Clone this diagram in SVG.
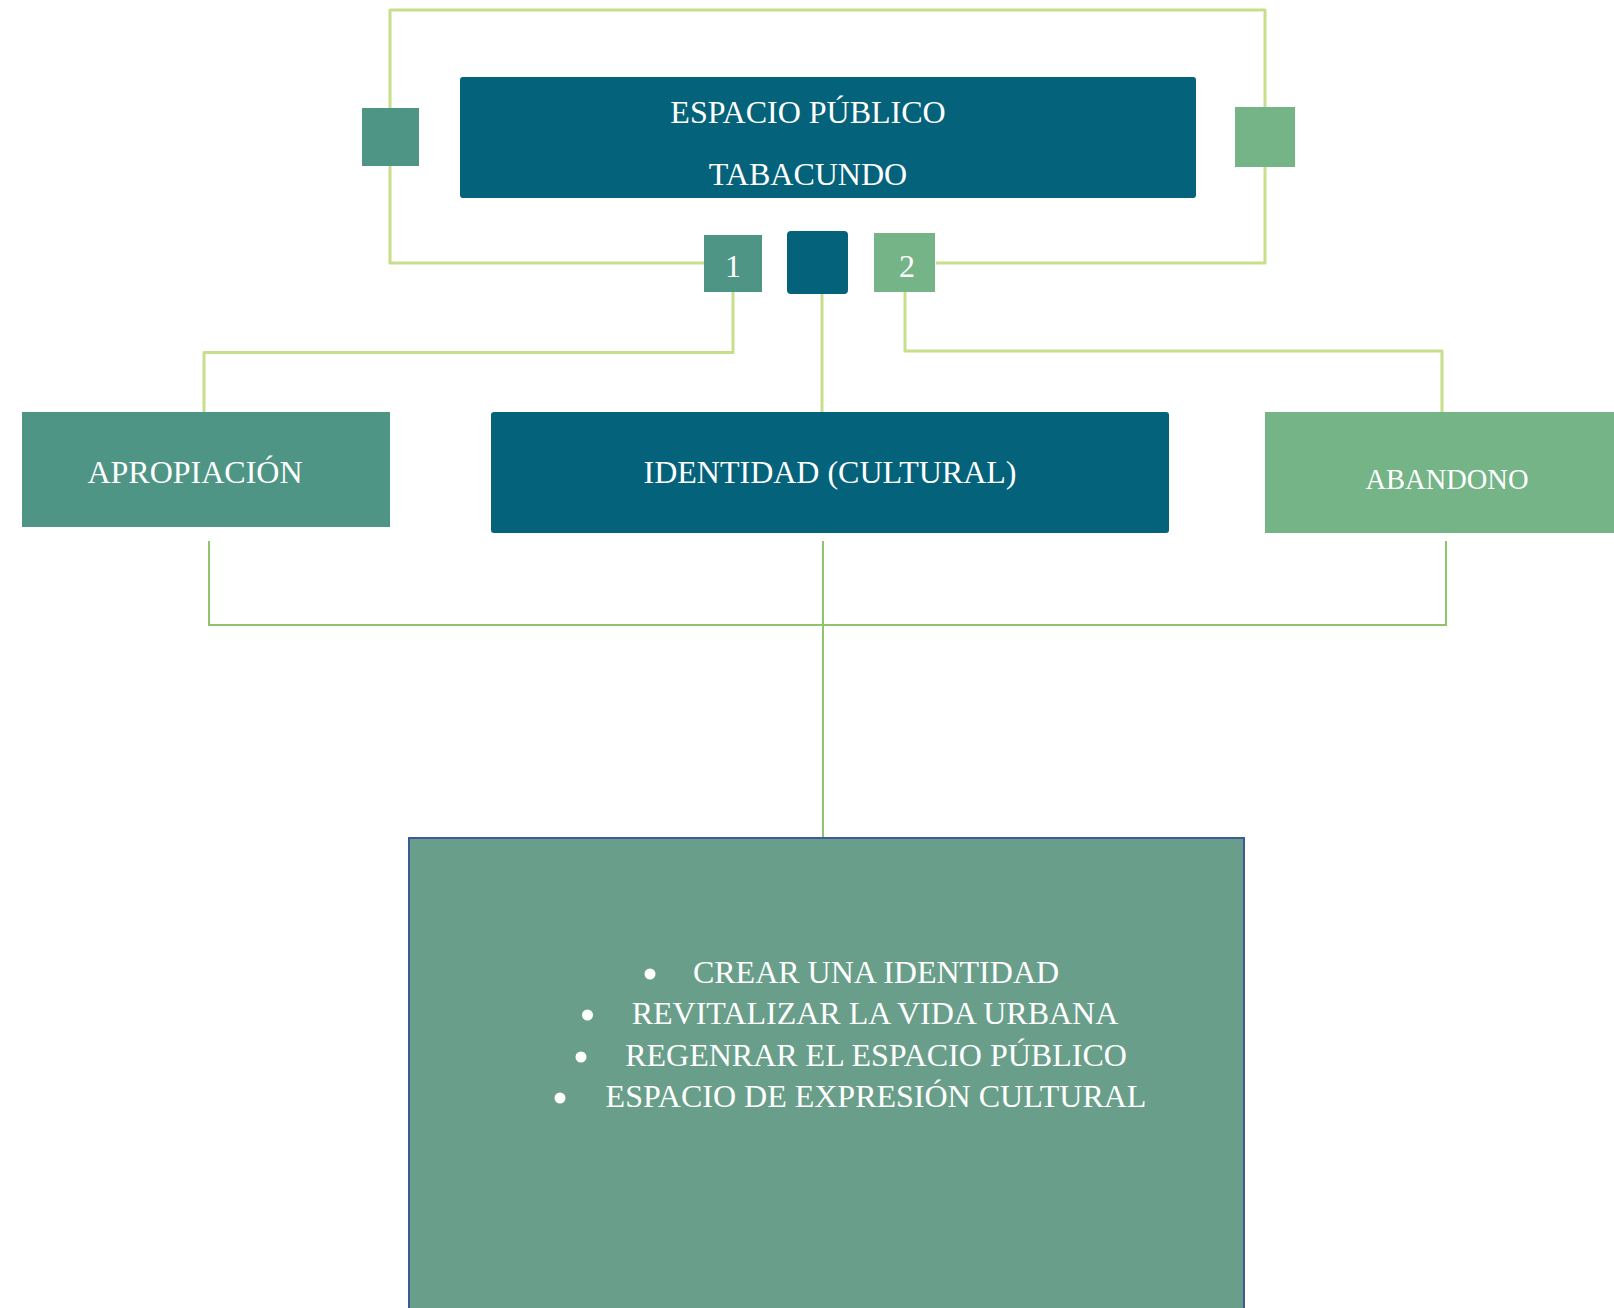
<svg xmlns="http://www.w3.org/2000/svg" width="1614" height="1308" viewBox="0 0 1614 1308">
<style>
  .dark { fill: #04627a; }
  .mid { fill: #4e9585; }
  .light { fill: #74b487; }
  .lbl { font-family: "Liberation Serif", "Times New Roman", serif; fill: #ffffff; text-anchor: middle; font-size: 32px; }
  .top { fill: none; stroke: #c6df8a; stroke-width: 3; stroke-linejoin: round; }
  .bot { fill: none; stroke: #8fc36c; stroke-width: 2; }
</style>
<rect width="1614" height="1308" fill="#ffffff"/>
<g id="connectors">
  <path class="top" d="M705,263 H390 V10 H1265 V263 H936"/>
  <path class="top" d="M733,292 V352.5 H204 V412"/>
  <path class="top" d="M905,292 V351 H1442 V412"/>
  <path class="top" d="M822,294 V412"/>
  <path class="bot" d="M209,541 V625 H1446 V541"/>
  <path class="bot" d="M823,541 V837"/>
</g>
<g id="node-espacio">
  <rect class="dark" x="460" y="77" width="736" height="121" rx="3"/>
  <text class="lbl" x="808" y="123">ESPACIO PÚBLICO</text>
  <text class="lbl" x="808" y="185">TABACUNDO</text>
</g>
<g id="node-left-square"><rect class="mid" x="362" y="108" width="57" height="58"/></g>
<g id="node-right-square"><rect class="light" x="1235" y="107" width="60" height="60"/></g>
<g id="node-1">
  <rect class="mid" x="704" y="235" width="58" height="57"/>
  <text class="lbl" x="733" y="277">1</text>
</g>
<g id="node-center-square"><rect class="dark" x="787" y="231" width="61" height="63" rx="4"/></g>
<g id="node-2">
  <rect class="light" x="874" y="233" width="61" height="59"/>
  <text class="lbl" x="907" y="277">2</text>
</g>
<g id="node-apropiacion">
  <rect class="mid" x="22" y="412" width="368" height="115"/>
  <text class="lbl" x="195" y="483">APROPIACIÓN</text>
</g>
<g id="node-identidad">
  <rect class="dark" x="491" y="412" width="678" height="121" rx="3"/>
  <text class="lbl" x="830" y="483">IDENTIDAD (CULTURAL)</text>
</g>
<g id="node-abandono">
  <rect class="light" x="1265" y="412" width="349" height="121"/>
  <text class="lbl" x="1447" y="489" style="font-size:28.5px">ABANDONO</text>
</g>
<g id="node-objetivos">
  <rect x="409" y="838" width="835" height="480" fill="#699f8a" stroke="#3d5b98" stroke-width="2"/>
  <g fill="#ffffff">
    <circle cx="650" cy="974" r="5.5"/>
    <circle cx="587.5" cy="1015" r="5.5"/>
    <circle cx="581" cy="1057" r="5.5"/>
    <circle cx="560" cy="1098" r="5.5"/>
  </g>
  <text class="lbl" x="876" y="983">CREAR UNA IDENTIDAD</text>
  <text class="lbl" x="875" y="1024">REVITALIZAR LA VIDA URBANA</text>
  <text class="lbl" x="876" y="1066">REGENRAR EL ESPACIO PÚBLICO</text>
  <text class="lbl" x="876" y="1107">ESPACIO DE EXPRESIÓN CULTURAL</text>
</g>
</svg>
